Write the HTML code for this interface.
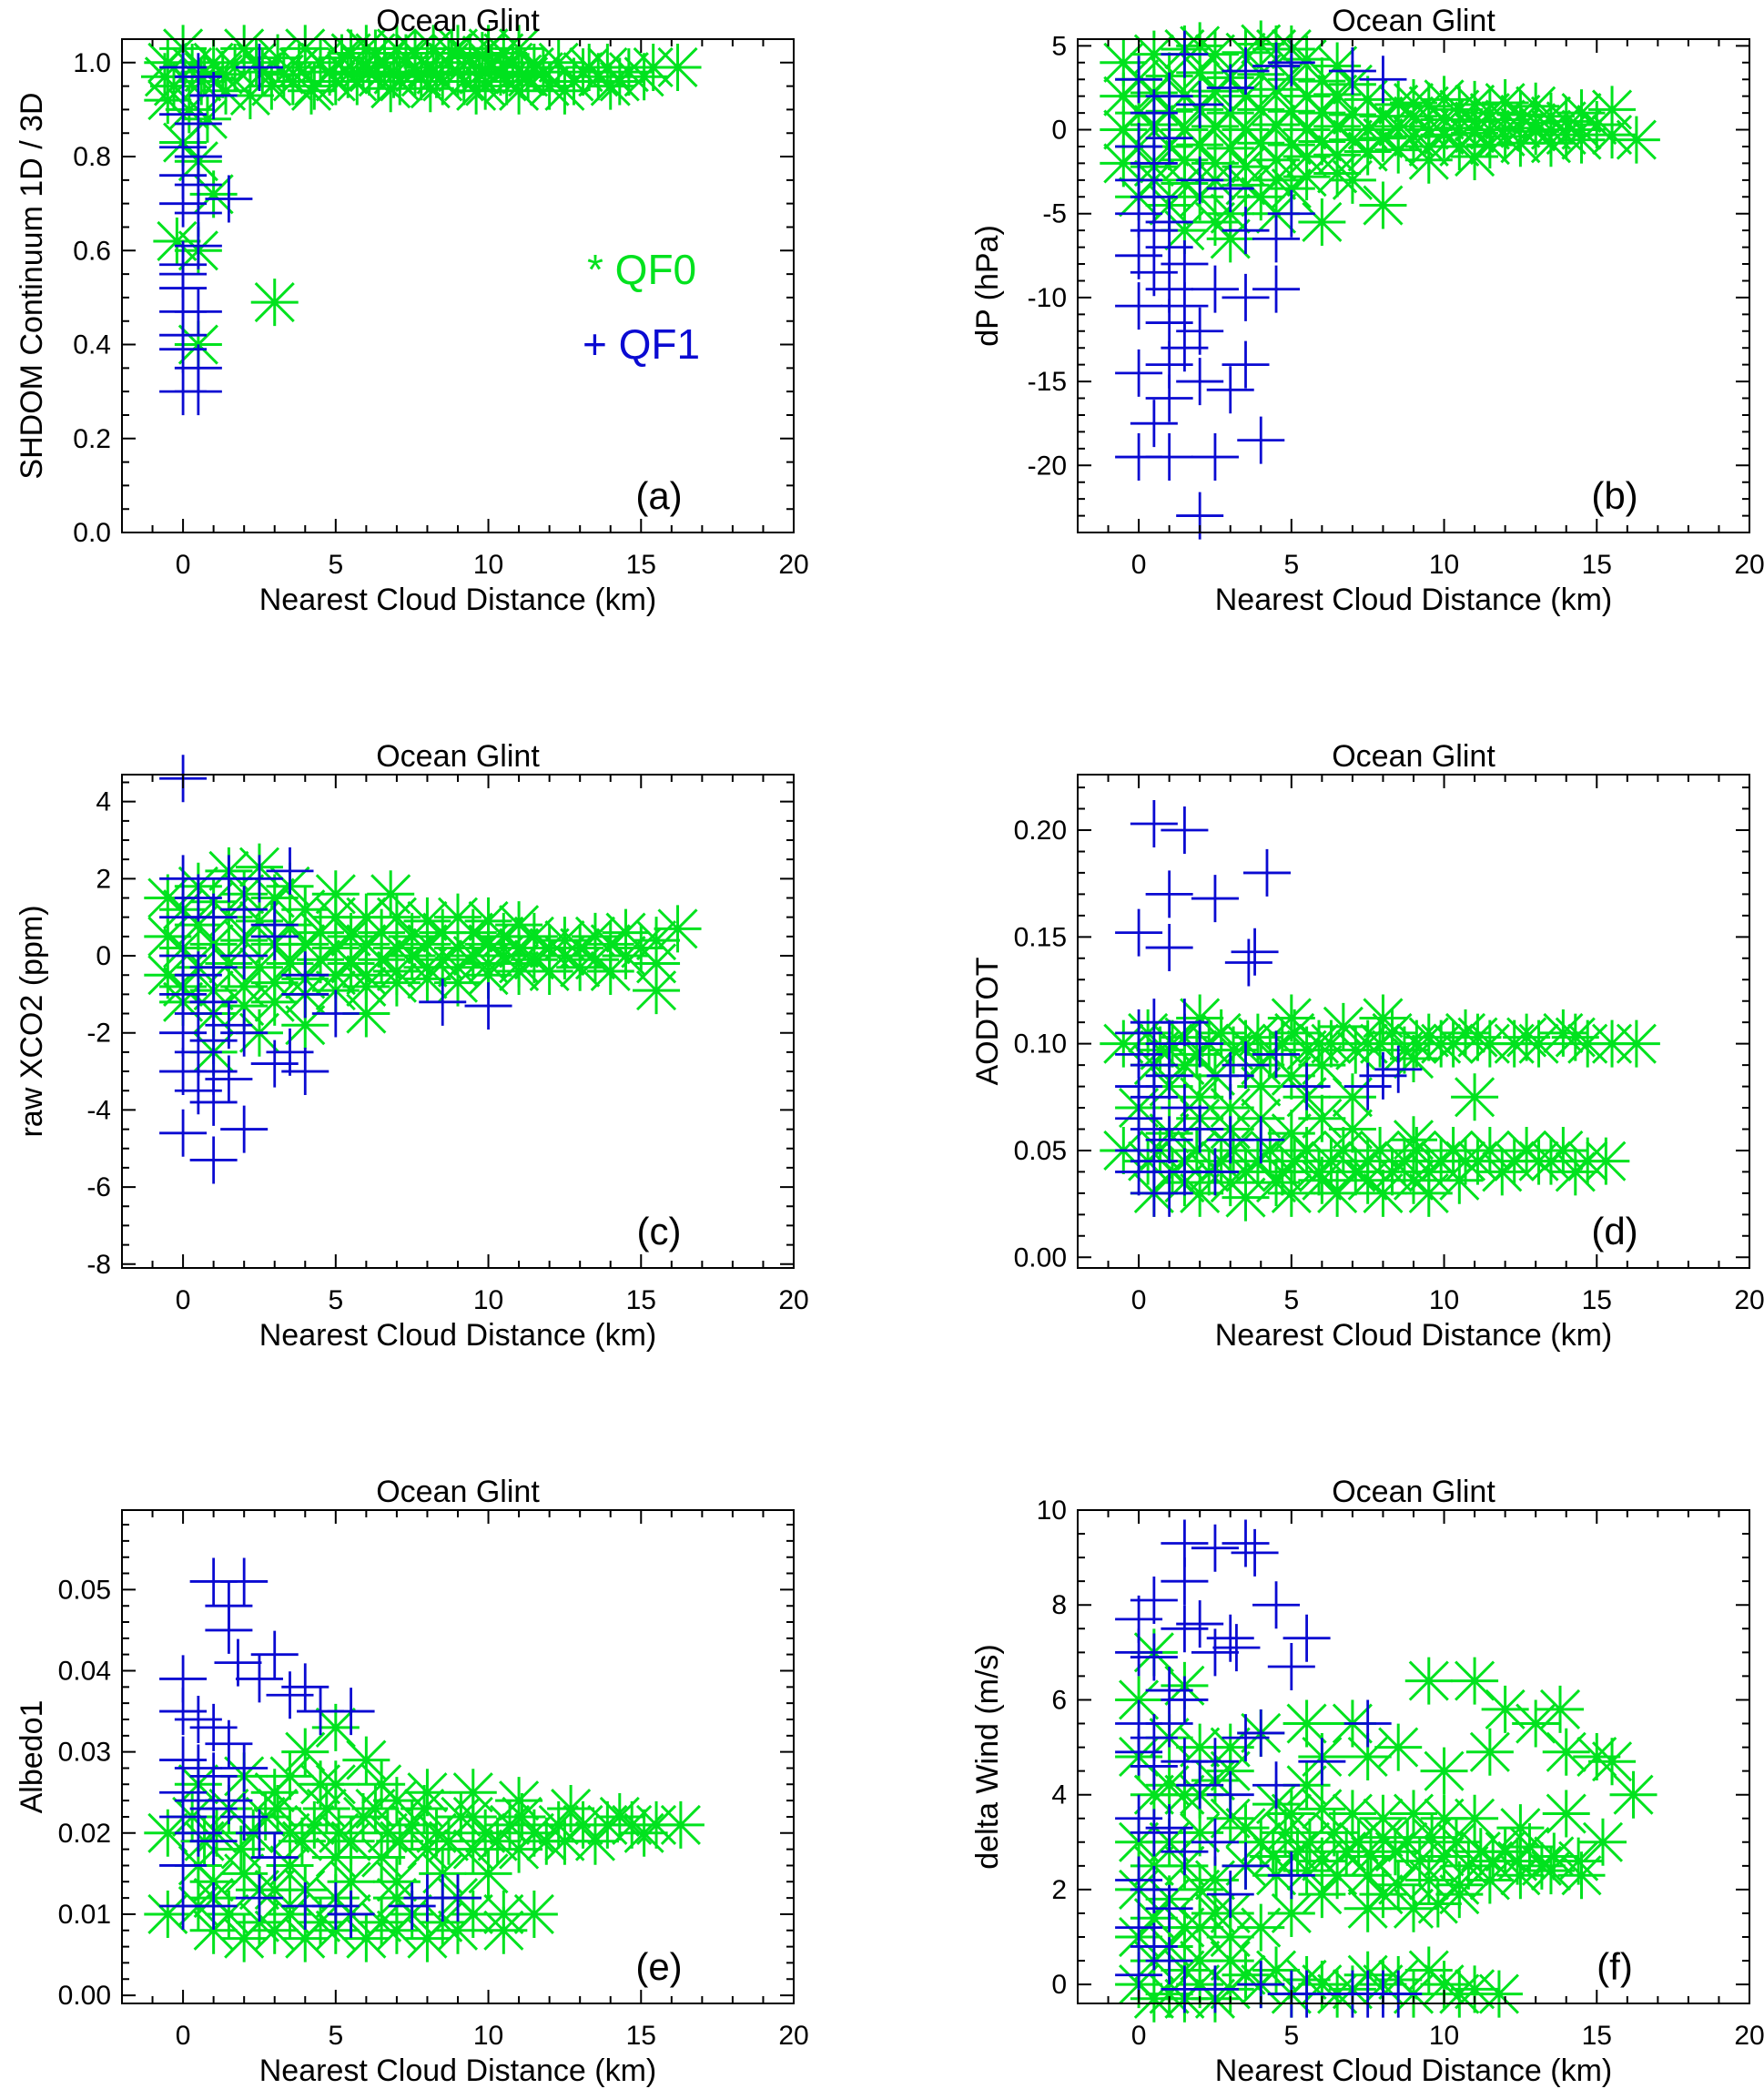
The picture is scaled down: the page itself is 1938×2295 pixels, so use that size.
<!DOCTYPE html>
<html><head><meta charset="utf-8"><style>
html,body{margin:0;padding:0;background:#fff;}
svg{display:block;font-family:"Liberation Sans",sans-serif;}
</style></head><body>
<svg id="fig" width="1938" height="2295" viewBox="0 0 1938 2295"></svg>
<script>
// ---- data (nearest cloud distance km, value) ----
const aQF0=[[-0.5,1.0],[0.3,0.99],[1,1.0],[1.7,0.99],[2.4,1.0],[3.1,1.01],[3.8,0.99],[4.5,1.0],[5.2,1.01],[5.9,0.99],[6.6,1.0],[7.3,1.01],[8,0.99],[8.7,1.0],[9.4,1.01],[10.1,0.99],[10.8,1.0],[11.5,0.99],[12.3,1.0],[13.1,0.98],[13.9,0.99],[14.6,0.98],[15.4,0.99],[16.2,0.99],
[-0.3,0.95],[0.6,0.96],[1.4,0.94],[2.2,0.93],[2.9,0.95],[3.6,0.96],[4.3,0.95],[5,0.96],[5.7,0.96],[6.4,0.97],[7.1,0.96],[7.8,0.97],[8.5,0.96],[9.2,0.96],[9.9,0.95],[10.6,0.96],[11.3,0.97],[12,0.95],[12.8,0.96],[13.6,0.97],[14.3,0.96],[15.1,0.97],
[0,1.03],[2,1.03],[4,1.03],[6,1.03],[7,1.03],[8.2,1.03],[9,1.03],[10,1.03],[11,1.03],
[0.7,0.98],[1.3,0.975],[2.6,0.98],[3.3,0.975],[4.8,0.98],[5.4,0.975],[6.1,0.98],[6.9,0.975],[7.6,0.98],[8.3,0.975],[9,0.98],[9.7,0.975],[10.4,0.98],[11.1,0.975],[11.8,0.98],[5.5,1.02],[6.3,1.02],[7.6,1.02],[8.8,1.02],[9.8,1.015],[10.5,1.02],[4.2,0.94],[6.8,0.945],[8.1,0.945],[9.6,0.94],[11,0.94],[12.5,0.94],[13.3,0.99],[14,0.95],[0,0.97],[-0.6,0.97],
[0,0.83],[0.5,0.79],[1,0.72],[-0.2,0.62],[0.5,0.6],[0.5,0.4],[3,0.49],[0.2,0.9],[0.8,0.88],[-0.5,0.92]];
const aQF1=[[0,0.99],[0.5,0.97],[0,0.89],[0.5,0.87],[0,0.82],[0.5,0.8],[1.5,0.71],[0,0.76],[0.5,0.74],[0.5,0.68],[0,0.7],[0.5,0.61],[0,0.57],[0,0.55],[0,0.52],[0,0.47],[0.5,0.47],[0,0.42],[0,0.39],[0.5,0.35],[0,0.3],[0.5,0.3],[2.5,0.99],[1,0.93]];

const bQF0=[[-0.5,4],[0.5,4.5],[1.5,4.8],[2.5,4.5],[3.5,4.6],[4.5,4.8],[5.5,4.2],[6.5,3.8],[-0.5,2],[0.5,2.2],[1.5,2],[2.5,2.3],[3.5,2],[4.5,2.4],[5.5,2],[6.5,2.1],[7.5,1.8],[8.5,1.5],[9.5,1.4],[10.5,1.2],[11.5,1],[12.5,0.9],[13.5,0.8],[14.5,1],[15.5,1.2],[-0.5,0],[0.5,0.3],[1.5,0],[2.5,0.2],[3.5,0],[4.5,0.3],[5.5,0],[6.5,0.2],[7.5,0],[8.5,0.2],[9.5,0],[10.5,0.1],[11.5,0],[12.5,0.1],[13.5,0],[14.5,0],[15.5,-0.3],[16.3,-0.6],[-0.5,-2],[0.5,-2.2],[1.5,-1.8],[2.5,-2],[3.5,-2.2],[4.5,-1.8],[5.5,-1.6],[6.5,-1.5],[7.5,-1.3],[8.5,-1.2],[9.5,-1],[10.5,-1],[11.5,-0.9],[12.5,-0.8],[13.5,-0.8],[14.5,-0.6],[0,-4],[1,-4.5],[2,-4],[3,-5],[4,-4],[5,-3.5],[6,-5.5],[8,-4.5],[7,-3],[1.5,-6],[2.5,-5.5],[9,0.8],[10,0.6],[11,0.5],[12,-0.4],[13,0.4],[14,-0.3],
[0,3],[1,3.2],[2,3.4],[3,3.1],[4,3.3],[5,3],[6,2.9],[7,2.7],[0,1],[1,1.1],[2,1.2],[3,1],[4,1.2],[5,1.1],[6,1],[7,0.9],[8,0.8],[0,-1],[1,-1],[2,-0.9],[3,-1.1],[4,-0.8],[5,-0.9],[6,-0.7],[7,-0.6],[8,-0.5],[9,-0.4],[10,-0.3],[11,-0.2],[12,0.6],[13,-0.1],[14,0.5],[15,0.3],[0.5,-3],[1.5,-3.2],[2.5,-3],[3.5,-3.3],[4.5,-3],[5.5,-2.8],[6.5,-2.6],[3,-6.5],[4.5,-5],[9,1.6],[10,1.8],[11,1.5],[12,1.6],[13,1.4],[9.5,-1.8],[11,-1.6],[5,4.8],[2,5],[4,5.1]];
const bQF1=[[0,-1],[0.5,-2],[0,-3],[0.5,-4],[0,-5],[1,-5.5],[0.5,-6],[1,-7],[0,-7.5],[1.5,-8],[0.5,-8.5],[1,-9.5],[0,-10.5],[1.5,-10.5],[2.5,-9.5],[1,-11.5],[2,-12],[1.5,-13],[1,-14],[0,-14.5],[2,-15],[1,-16],[3,-15.5],[3.5,-14],[0.5,-17.5],[0,-19.5],[1,-19.5],[2.5,-19.5],[4,-18.5],[2,-23],[3.5,-6],[4.5,-6.5],[5,-5],[4.5,-9.5],[3.5,-10],[0.5,1],[1,2],[2,1.5],[3,2.5],[3.5,3.5],[4.5,3.8],[5,4],[7,3.5],[8,3],[1.5,4.5],[1,-0.5],[2,-3],[3,-3.5],[0,3]];

const cQF0=[[-0.5,1.5],[0.5,1.8],[1.5,2.2],[2.5,2.3],[3.5,1.8],[5,1.6],[6.8,1.6],[-0.5,0.5],[0.5,0.8],[1.5,1],[2.5,0.9],[3.5,0.8],[4.5,0.6],[5.5,0.5],[6.5,0.6],[7.5,0.5],[8.5,0.6],[9.5,0.6],[10.5,0.5],[11.5,0.5],[12.5,0.4],[13.5,0.5],[14.5,0.6],[15.5,0.4],[16.2,0.7],[-0.5,-0.5],[0.5,-0.3],[1.5,-0.2],[2.5,-0.3],[3.5,-0.2],[4.5,-0.1],[5.5,-0.2],[6.5,-0.1],[7.5,0],[8.5,-0.1],[9.5,0],[10.5,0],[11.5,-0.1],[12.5,0],[13.5,-0.1],[14.5,0],[15.5,-0.2],[0,-1.2],[1,-1.5],[2,-1.3],[3,-1.2],[4,-1],[5,-0.9],[6,-0.8],[7,-0.7],[8,-0.6],[9,-0.7],[10,-0.5],[11,-0.4],[12,-0.4],[13,-0.3],[14,-0.4],[15.5,-0.9],[2.5,-2],[4,-1.8],[6,-1.5],[1,-2.5],
[0,0.2],[1,0.3],[2,0.4],[3,0.3],[4,0.3],[5,0.2],[6,0.3],[7,0.2],[8,0.3],[9,0.2],[10,0.3],[11,0.2],[12,0.2],[13,0.2],[14,0.3],[15,0.2],[0,1.2],[1,1.4],[2,1.6],[3,1.5],[4,1.2],[5,1],[6,1],[7,1],[8,0.9],[9,1],[10,0.9],[11,0.8],[0,-0.8],[1,-0.9],[2,-0.8],[3,-0.7],[4,-0.6],[5,-0.5],[6,-0.5],[7,-0.4],[8,-0.3],[9,-0.3],[10,-0.2],[11,-0.2]];
const cQF1=[[0,4.6],[0,2],[0.5,1.5],[1.5,2],[2.5,2],[3.5,2.2],[0,1],[1,1],[2,1.2],[3,0.8],[0,0],[0.5,-0.5],[1,-0.3],[2,0],[0,-1],[0.5,-1.5],[1,-1.2],[1.5,-1.8],[0,-2],[1,-2.2],[2,-2],[0.5,-2.5],[0,-3],[1,-3],[1.5,-3.2],[0.5,-3.5],[1,-3.8],[0,-4.6],[2,-4.5],[1,-5.3],[3.5,-2.5],[4,-3],[3,-2.8],[4,-1],[5,-1.5],[8.5,-1.2],[10,-1.3],[3,0.5],[4,-0.5]];

const dQF0=[[-0.5,0.1],[0.3,0.105],[1.1,0.1],[1.9,0.095],[2.7,0.105],[3.5,0.1],[4.3,0.095],[5.1,0.105],[5.9,0.1],[6.7,0.108],[7.5,0.1],[8.3,0.105],[9.1,0.1],[9.9,0.1],[10.7,0.105],[11.5,0.1],[12.3,0.1],[13.1,0.1],[13.9,0.105],[14.7,0.1],[15.5,0.1],[16.3,0.1],[2,0.112],[5,0.112],[8,0.112],[11,0.075],[4,0.09],[6,0.09],[9,0.093],
[-0.5,0.05],[0.3,0.045],[1.1,0.04],[1.9,0.05],[2.7,0.045],[3.5,0.04],[4.3,0.05],[5.1,0.045],[5.9,0.04],[6.7,0.05],[7.5,0.045],[8.3,0.04],[9.1,0.05],[9.9,0.045],[10.7,0.045],[11.5,0.05],[12.3,0.045],[13.1,0.045],[13.9,0.05],[14.7,0.045],[15.3,0.045],[0.5,0.03],[2,0.03],[3.5,0.028],[5,0.03],[6.5,0.03],[8,0.03],[9.5,0.03],[1,0.058],[3,0.06],[5,0.058],[7,0.06],[9,0.055],[0,0.07],[1,0.08],[2,0.075],[3,0.07],[4,0.08],[5.5,0.075],[7,0.075],[0.5,0.09],[1.5,0.09],
[0.7,0.097],[1.5,0.103],[2.3,0.1],[3.1,0.097],[3.9,0.103],[4.7,0.1],[5.5,0.097],[6.3,0.1],[7.1,0.097],[7.9,0.1],[8.7,0.097],[9.5,0.103],[10.3,0.1],[11.1,0.103],[12.7,0.103],[14.3,0.103],[0.7,0.05],[1.5,0.045],[2.3,0.04],[3.1,0.05],[3.9,0.045],[4.7,0.04],[5.5,0.05],[6.3,0.045],[7.1,0.04],[7.9,0.05],[8.7,0.045],[9.5,0.04],[10.3,0.05],[11.1,0.045],[11.9,0.04],[12.7,0.05],[13.5,0.045],[14.3,0.04],[1.5,0.035],[3,0.035],[4.5,0.035],[6,0.036],[7.5,0.036],[9,0.036],[10.5,0.036],[2,0.065],[4,0.065],[6,0.065],[2.5,0.085],[5,0.085]];
const dQF1=[[0.5,0.203],[1.5,0.2],[0,0.152],[1,0.17],[2.5,0.168],[4.2,0.18],[3.8,0.143],[3.6,0.138],[1,0.145],[0,0.105],[0.5,0.11],[1,0.1],[1.5,0.11],[0,0.095],[0.5,0.09],[1,0.085],[2,0.1],[0,0.08],[0.5,0.075],[1.5,0.07],[0,0.065],[0.5,0.06],[1,0.055],[2,0.06],[3,0.055],[0,0.05],[0.5,0.045],[1.5,0.04],[0,0.04],[0.5,0.03],[3.5,0.09],[3,0.085],[4.5,0.095],[4,0.055],[5.5,0.08],[7.5,0.08],[8,0.085],[8.5,0.088],[2.5,0.04],[1,0.03]];

const eQF0=[[-0.5,0.02],[0.3,0.022],[1.1,0.02],[1.9,0.018],[2.7,0.022],[3.5,0.02],[4.3,0.021],[5.1,0.02],[5.9,0.022],[6.7,0.02],[7.5,0.021],[8.3,0.02],[9.1,0.022],[9.9,0.02],[10.7,0.021],[11.5,0.02],[12.3,0.021],[13.1,0.021],[13.9,0.021],[14.7,0.021],[15.5,0.021],[16.3,0.021],[0.5,0.026],[2,0.027],[3.5,0.027],[5,0.026],[6.5,0.026],[8,0.025],[9.5,0.025],[11,0.024],[0.5,0.016],[2,0.015],[3.5,0.016],[5,0.017],[6.5,0.017],[8,0.018],[9.5,0.018],[11,0.018],[12.5,0.019],[4,0.03],[6,0.029],[5,0.033],
[-0.5,0.01],[0.5,0.011],[1.5,0.01],[2.5,0.009],[3.5,0.01],[4.5,0.009],[5.5,0.01],[6.5,0.009],[7.5,0.01],[8.5,0.009],[9.5,0.01],[10.5,0.01],[11.5,0.01],[1,0.012],[3,0.013],[5,0.012],[7,0.012],[9,0.012],[2,0.007],[4,0.007],[6,0.007],[8,0.007],
[0.7,0.019],[1.5,0.023],[2.3,0.02],[3.1,0.023],[3.9,0.019],[4.7,0.023],[5.5,0.019],[6.3,0.023],[7.1,0.019],[7.9,0.023],[8.7,0.019],[9.5,0.022],[10.3,0.019],[11.1,0.022],[11.9,0.019],[12.7,0.023],[13.5,0.019],[14.3,0.022],[15.1,0.02],[1,0.014],[2.5,0.013],[4,0.013],[5.5,0.014],[7,0.014],[8.5,0.015],[10,0.015],[1,0.008],[3,0.008],[5,0.008],[7,0.008],[9,0.008],[10.5,0.008],[3,0.025],[4.5,0.026],[7,0.024]];
const eQF1=[[1,0.051],[1.5,0.048],[2,0.051],[1.5,0.045],[1.8,0.041],[3,0.042],[2.5,0.039],[4,0.038],[3.5,0.037],[4.5,0.035],[5.5,0.035],[0,0.039],[0,0.035],[0.5,0.034],[1,0.033],[1.5,0.031],[0,0.029],[0.5,0.028],[1,0.027],[2,0.028],[0,0.025],[0.5,0.024],[1,0.023],[1.5,0.024],[2,0.022],[0,0.022],[0.5,0.02],[1,0.019],[3,0.017],[2.5,0.02],[0,0.016],[0,0.011],[1,0.011],[2.5,0.012],[4,0.011],[5,0.011],[5.5,0.01],[7.5,0.011],[8,0.012],[8.5,0.012],[9,0.012]];

const fQF0=[[4,3],[4.8,3.2],[5.6,3],[6.4,3.2],[7.2,3],[8,3.1],[8.8,3],[9.6,3.1],[10.4,3],[11.2,2.8],[12,2.8],[12.8,2.9],[13.6,2.7],[14.4,2.6],[15.2,3],[16.2,4],[4.5,2.3],[5.5,2.4],[6.5,2.3],[7.5,2.3],[8.5,2.1],[9.5,2.2],[10.5,2.1],[11.5,2.2],[12.5,2.3],[13.5,2.4],[14.5,2.3],[5,3.6],[6,3.7],[7,3.6],[8,3.5],[9,3.6],[10,3.5],[11,3.5],[12.5,3.3],[14,3.6],[7.5,1.6],[9,1.6],[10.5,1.9],[6,1.9],
[4,5.3],[5.5,5.5],[7,5.5],[8.5,5],[9.5,6.4],[11,6.4],[12,5.8],[13,5.5],[13.8,5.8],[15,4.8],[15.5,4.7],[10,4.5],[11.5,4.9],[3,5],[6,4.8],[7.5,4.8],[14,4.9],
[0,6],[1,5.2],[2,5],[0.5,4],[1.5,4],[2.5,4.3],[3,3.5],[0,3],[1,3],[2,3.2],[0,2],[1,1.8],[2,2],[3,1.5],[0,1],[1,0.8],[2,0.5],[3,1],[4,1.2],[0,0],[1,-0.2],[0.5,7],[3.5,2.5],
[2,0],[3,-0.1],[4,0],[5,-0.2],[6,0],[7,-0.1],[8,0],[9,-0.2],[10,0],[11,-0.1],[11.8,-0.2],[0.5,-0.3],[4.5,0.3],[7.5,0.2],[9.5,0.3],
[4.4,2.7],[5.2,2.8],[6,2.6],[6.8,2.8],[7.6,2.7],[8.4,2.8],[9.2,2.6],[10,2.7],[10.8,2.5],[11.6,2.6],[12.4,2.6],[13.2,2.5],[3.5,3.3],[4.5,3.8],[5.5,4.2],[2.5,2.2],[2,1.2],[3,0.5],[0.5,2.5],[1.5,2.5],[0.5,1.4],[1.5,1.2],[0.5,0.5],[1.5,0.3],[2.5,1.5],[1,4.2],[2,4],[3,4.5],[0,4.8],[1.5,6.3],[3.5,0.2],[5.5,0.1],[6.5,-0.2],[8.5,0.1],[10.5,-0.2],[2.5,-0.3],[1.5,-0.3],[5,1.5],[8,1.9],[9.8,1.7]];
const fQF1=[[1.5,9.3],[2.5,9.2],[3.5,9.3],[3.8,9.1],[4.5,8],[1.5,8.5],[0.5,8.1],[0,7.7],[1.5,7.5],[2,7.6],[2.5,7],[3,7.3],[3.2,7.1],[5.5,7.3],[5,6.7],[0,7],[0.5,6.9],[1,6.2],[1.5,6],[0,5.5],[0.5,5.2],[1,5.5],[0,4.9],[0.5,4.6],[1.5,4.7],[2.5,4.7],[3.5,5.2],[4,5.3],[2,4.2],[3,4],[0,3.5],[0.5,3.2],[1,3.3],[1.5,2.8],[2.5,3],[0,2.2],[0.5,2],[1,1.6],[3,1.9],[3.5,2.5],[0,1.2],[0.5,0.8],[1,0.5],[0,0.2],[1.5,-0.1],[2.5,-0.1],[4,0],[5,-0.2],[5.5,-0.2],[7,-0.2],[7.5,-0.2],[8,-0.2],[8.5,-0.2],[7.5,5.5],[6,4.7],[4.5,4.2],[5,2.3]];

const xTickLabels=["0","5","10","15","20"];
const yTitles=["SHDOM Continuum 1D / 3D","dP (hPa)","raw XCO2 (ppm)","AODTOT","Albedo1","delta Wind (m/s)"];
const panelLetters=["(a)","(b)","(c)","(d)","(e)","(f)"];

const NS="http://www.w3.org/2000/svg";
const svg=document.getElementById('fig');
const GREEN="#00E21E", BLUE="#0A0AD2";
function mk(tag,attrs,parent){const e=document.createElementNS(NS,tag);for(const k in attrs)e.setAttribute(k,attrs[k]);(parent||svg).appendChild(e);return e;}

const panels=[
 {id:'a',L:134,T:43,ymin:0,ymax:1.05,major:0.2,minor:0.05,dec:1,g:aQF0,b:aQF1,legend:true},
 {id:'b',L:1184,T:43,ymin:-24,ymax:5.4,major:5,minor:1,dec:0,g:bQF0,b:bQF1},
 {id:'c',L:134,T:851,ymin:-8.1,ymax:4.7,major:2,minor:0.5,dec:0,g:cQF0,b:cQF1},
 {id:'d',L:1184,T:851,ymin:-0.005,ymax:0.226,major:0.05,minor:0.01,dec:2,g:dQF0,b:dQF1},
 {id:'e',L:134,T:1659,ymin:-0.001,ymax:0.0598,major:0.01,minor:0.002,dec:2,g:eQF0,b:eQF1},
 {id:'f',L:1184,T:1659,ymin:-0.4,ymax:10,major:2,minor:0.5,dec:0,g:fQF0,b:fQF1}
];
const W=738,H=542,XMIN=-2,XMAX=20;

panels.forEach((p,i)=>{
 const g=mk('g',{});
 
 
 const xs=v=>p.L+(v-XMIN)/(XMAX-XMIN)*W;
 const ys=v=>p.T+H-(v-p.ymin)/(p.ymax-p.ymin)*H;
 const mg=mk('g',{stroke:GREEN,'stroke-width':3,fill:'none'},g);
 
 
 p.g.forEach(d=>{const x=xs(d[0]),y=ys(d[1]);
  const m=mk('path',{d:`M${x-26} ${y}H${x+26}M${x} ${y-26}V${y+26}M${x-21} ${y-21}L${x+21} ${y+21}M${x-21} ${y+21}L${x+21} ${y-21}`},mg);
  
  });
 const bg=mk('g',{stroke:BLUE,'stroke-width':2.8,fill:'none'},g);
 
 
 p.b.forEach(d=>{const x=xs(d[0]),y=ys(d[1]);
  const m=mk('path',{d:`M${x-26} ${y}H${x+26}M${x} ${y-26}V${y+26}`},bg);
  
  });
 const fr=mk('rect',{x:p.L,y:p.T,width:W,height:H,fill:'none',stroke:'#000','stroke-width':2},g);
 
 
 let td='';
 for(let v=-2;v<=20;v++){const x=xs(v),len=(v%5===0)?15:8;td+=`M${x} ${p.T+H}v${-len}M${x} ${p.T}v${len}`;}
 const eps=p.minor*1e-3;
 const start=Math.ceil((p.ymin-eps)/p.minor)*p.minor;
 for(let v=start;v<=p.ymax+eps;v+=p.minor){const y=ys(v);const isMaj=Math.abs(v/p.major-Math.round(v/p.major))<1e-3;const len=isMaj?15:8;td+=`M${p.L} ${y}h${len}M${p.L+W} ${y}h${-len}`;}
 const tk=mk('path',{d:td,stroke:'#000','stroke-width':2,fill:'none'},g);
 
 
 xTickLabels.forEach((s,k)=>{const t=mk('text',{x:xs(k*5),y:p.T+H+45,'font-size':30,'text-anchor':'middle'},g);t.textContent=s;
  
  });
 const ms=Math.ceil((p.ymin-1e-9)/p.major);
 for(let k=ms;k*p.major<=p.ymax+1e-9;k++){const v=k*p.major;const t=mk('text',{x:p.L-12,y:ys(v)+10,'font-size':30,'text-anchor':'end'},g);t.textContent=(Math.abs(v)<1e-9?0:v).toFixed(p.dec);
  
  }
 const xt=mk('text',{x:p.L+W/2,y:p.T+H+85,'font-size':34,'text-anchor':'middle'},g);xt.textContent='Nearest Cloud Distance (km)';
 
 
 const tt=mk('text',{x:p.L+W/2,y:p.T-9,'font-size':34,'text-anchor':'middle'},g);tt.textContent='Ocean Glint';
 
 
 const yt=mk('text',{x:0,y:0,'font-size':34,'text-anchor':'middle',transform:`translate(${p.L-88},${p.T+H/2}) rotate(-90)`},g);yt.textContent=yTitles[i];
 
 
 const lt=mk('text',{x:p.L+W-148,y:p.T+H-26,'font-size':42,'text-anchor':'middle'},g);lt.textContent=panelLetters[i];
 
 
 if(p.legend){
  const l1=mk('text',{x:645,y:312,'font-size':46,fill:GREEN},g);l1.textContent='* QF0';
  
  
  const l2=mk('text',{x:640,y:394,'font-size':46,fill:BLUE},g);l2.textContent='+ QF1';
  
  
 }
});
</script>
</body></html>
